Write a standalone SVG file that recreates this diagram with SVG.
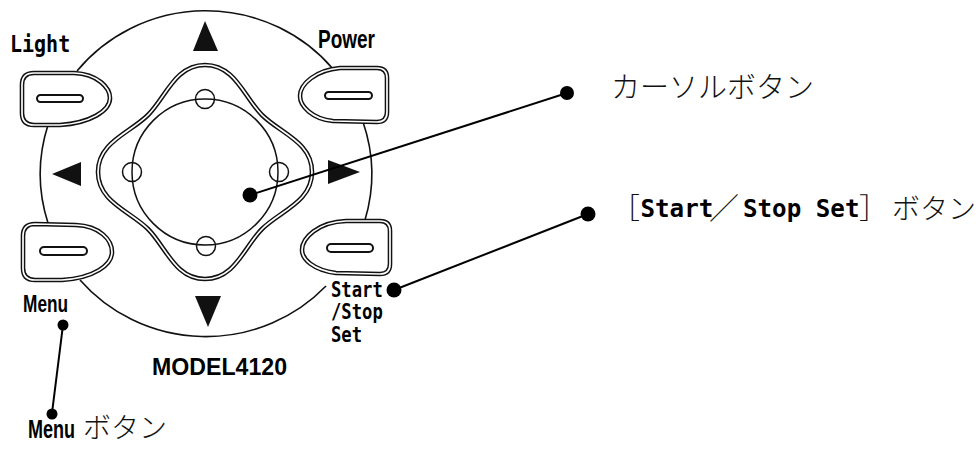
<svg xmlns="http://www.w3.org/2000/svg" xmlns:xlink="http://www.w3.org/1999/xlink" width="979" height="452" viewBox="0 0 979 452">
  <style>
    .ring { fill: none; stroke: #111; stroke-width: 1.6; }
    .dbl-o { fill: #fff; stroke: #111; stroke-width: 4.6; }
    .dbl-i { fill: none; stroke: #fff; stroke-width: 1.7; }
    .bar { fill: #fff; stroke: #111; stroke-width: 2; }
    .thin { fill: none; stroke: #111; stroke-width: 1.5; }
    .tri { fill: #111; }
    .lead { fill: none; stroke: #000; stroke-width: 2; }
    .dot { fill: #000; }
    .gothic { font-family: "DejaVu Sans Mono", "Liberation Mono", monospace; font-weight: bold; fill: #000; }
    .narrow { font-family: "Liberation Sans", Arial, sans-serif; font-weight: bold; fill: #000; }
    .jp { font-family: "Noto Sans CJK JP", sans-serif; font-weight: 300; fill: #111; }
  </style>
  <defs>
    <!-- four-lobed cursor pad outline, centred at (205,172) -->
    <path id="pad-shape" d="M205,65 C235,65 244,97 262,115 C280,133 312,142 312,172 C312,202 280,211 262,229 C244,247 235,279 205,279 C175,279 166,247 148,229 C130,211 98,202 98,172 C98,142 130,133 148,115 C166,97 175,65 205,65 Z"/>
    <path id="btn-light" d="M34,73 L74,73 C98,74 110,88 110,98 C110,111 90,123 60,125 L34,125 Q22,125 22,113 L22,85 Q22,73 34,73 Z"/>
    <path id="btn-power" d="M377,68 Q387,68 387,78 L387,112 Q387,122 377,122 L333,121 C312,119 300,106 300,96 C300,84 316,70 340,68 Z"/>
    <path id="btn-menu" d="M35,224 L76,225 C100,226 112,240 112,252 C112,265 94,278 62,280 L35,280 Q23,280 23,268 L23,236 Q23,224 35,224 Z"/>
    <path id="btn-start" d="M380,221 Q390,221 390,231 L390,264 Q390,274 380,274 L336,273 C313,270 302,259 302,250 C302,238 318,222 346,221 Z"/>
  </defs>

  <rect width="979" height="452" fill="#fff"/>

  <!-- outer ring of the keypad, broken by buttons and labels -->
  <g id="outer-ring">
    <path class="ring" d="M77,71 A166,163 0 0 1 333,69"/>
    <path class="ring" d="M48,125 A166,163 0 0 0 48,223"/>
    <path class="ring" d="M363,122 A166,163 0 0 1 365,220"/>
    <path class="ring" d="M80,280 A166,163 0 0 0 326,286"/>
  </g>

  <!-- direction arrows -->
  <g id="arrow-up"><polygon class="tri" points="205,21 218,51 193,51"/></g>
  <g id="arrow-left"><polygon class="tri" points="52,174 81,162 81,186"/></g>
  <g id="arrow-right"><polygon class="tri" points="360,172 328,160 328,184"/></g>
  <g id="arrow-down"><polygon class="tri" points="195,296 221,296 208,327"/></g>

  <!-- cursor pad -->
  <g id="cursor-pad">
    <use xlink:href="#pad-shape" class="dbl-o"/>
    <use xlink:href="#pad-shape" class="dbl-i"/>
    <circle class="thin" cx="205" cy="172" r="73"/>
    <circle class="thin" cx="205" cy="99" r="9.5"/>
    <circle class="thin" cx="132" cy="172" r="9.5"/>
    <circle class="thin" cx="279" cy="172" r="9.5"/>
    <circle class="thin" cx="206" cy="246" r="9.5"/>
  </g>

  <!-- side buttons -->
  <g id="light-button">
    <use xlink:href="#btn-light" class="dbl-o"/>
    <use xlink:href="#btn-light" class="dbl-i"/>
    <rect class="bar" x="37" y="95" width="46" height="7" rx="3.5"/>
    <text class="gothic" transform="translate(10,52) scale(0.87,1)" font-size="23">Light</text>
  </g>
  <g id="power-button">
    <use xlink:href="#btn-power" class="dbl-o"/>
    <use xlink:href="#btn-power" class="dbl-i"/>
    <rect class="bar" x="325" y="92" width="47" height="7" rx="3.5"/>
    <text class="narrow" transform="translate(318,48) scale(0.76,1)" font-size="25">Power</text>
  </g>
  <g id="menu-button">
    <use xlink:href="#btn-menu" class="dbl-o"/>
    <use xlink:href="#btn-menu" class="dbl-i"/>
    <rect class="bar" x="40" y="247" width="47" height="8" rx="4"/>
    <text class="narrow" transform="translate(23,312) scale(0.72,1)" font-size="24">Menu</text>
  </g>
  <g id="start-button">
    <use xlink:href="#btn-start" class="dbl-o"/>
    <use xlink:href="#btn-start" class="dbl-i"/>
    <rect class="bar" x="327" y="244" width="46" height="8" rx="4"/>
    <text class="gothic" transform="translate(331,297) scale(0.84,1)" font-size="20.5">Start</text>
    <text class="gothic" transform="translate(331,319) scale(0.84,1)" font-size="20.5">/Stop</text>
    <text class="gothic" transform="translate(331,342) scale(0.84,1)" font-size="20.5">Set</text>
  </g>

  <g id="model-name">
    <text class="narrow" x="152" y="375" font-size="23.5" textLength="135" lengthAdjust="spacingAndGlyphs">MODEL4120</text>
  </g>

  <!-- callout leaders -->
  <g id="connectors">
    <line class="lead" x1="250" y1="195" x2="567" y2="93"/>
    <circle class="dot" cx="250" cy="195" r="7.5"/>
    <circle class="dot" cx="567" cy="93" r="7"/>
    <line class="lead" x1="394" y1="290" x2="588" y2="214"/>
    <circle class="dot" cx="394" cy="290" r="7.5"/>
    <circle class="dot" cx="588" cy="214" r="7.5"/>
    <line class="lead" x1="63" y1="325" x2="52" y2="413"/>
    <circle class="dot" cx="63" cy="325" r="5.5"/>
    <circle class="dot" cx="52" cy="414" r="5.5"/>
  </g>

  <!-- callout texts -->
  <g id="label-cursor">
    <text class="jp" x="611" y="98" font-size="29">カーソルボタン</text>
  </g>
  <g id="label-start">
    <text class="jp" x="611" y="219" font-size="29">［</text>
    <text class="gothic" x="640.5" y="217" font-size="24.2">Start</text>
    <text class="jp" x="709" y="219" font-size="30" font-weight="bold">／</text>
    <text class="gothic" x="743" y="217" font-size="24.2">Stop Set</text>
    <text class="jp" x="859" y="219" font-size="29">］</text>
    <text class="jp" x="892" y="219" font-size="28">ボタン</text>
  </g>
  <g id="label-menu">
    <text class="narrow" transform="translate(28,438) scale(0.72,1)" font-size="25">Menu</text>
    <text class="jp" x="83" y="438" font-size="28">ボタン</text>
  </g>
</svg>
